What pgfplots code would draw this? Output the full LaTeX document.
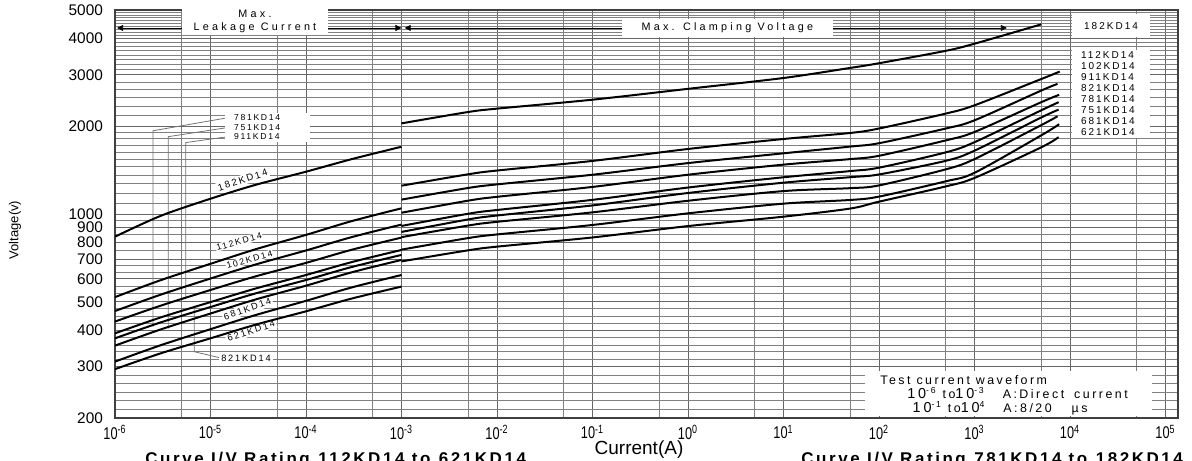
\documentclass[border=0pt]{standalone}
\usepackage{fontspec}
\setmainfont{Liberation Sans}
\newfontfamily\spacedfont{Liberation Sans}[LetterSpace=30]
\newfontfamily\labelfont{Liberation Sans}[LetterSpace=20]
\newfontfamily\narrowfont{Liberation Sans}[FakeStretch=0.75]
\newfontfamily\boldspaced{Liberation Sans}[LetterSpace=15]
\usepackage{pgfplots}
\pgfplotsset{compat=1.18}
\usetikzlibrary{arrows.meta}
\pgfplotsset{vcurve/.style={black, solid, line width=1pt, mark=none, smooth}}

\begin{document}
\begin{tikzpicture}
\useasboundingbox (-57.5pt,-21pt) rectangle (538.5pt,209pt);
\begin{axis}[
  at={(0pt,0pt)}, anchor=south west,
  scale only axis, width=531.5pt, height=204pt,
  xmode=log, ymode=log,
  xmin=1e-6, xmax=1.352e5, ymin=200, ymax=5000,
  xtick={1e-6,1e-5,1e-4,1e-3,1e-2,1e-1,1,10,100,1000,10000,100000},
  xticklabels={10\textsuperscript{-6},10\textsuperscript{-5},10\textsuperscript{-4},10\textsuperscript{-3},
    10\textsuperscript{-2},10\textsuperscript{-1},10\textsuperscript{0},10\textsuperscript{1},
    10\textsuperscript{2},10\textsuperscript{3},10\textsuperscript{4},10\textsuperscript{5}},
  minor xtick={5e-6,5e-5,5e-4,5e-3,5e-2,5e-1,5,50,500,5000,50000},
  ytick={200,300,400,500,600,700,800,900,1000,2000,3000,4000,5000},
  yticklabels={200,300,400,500,600,700,800,900,1000,2000,3000,4000,5000},
  minor ytick={214,229,245,262,280,318,337,356,378,423,447,473,533,565,632,665,750,850,950,
    1090,1180,1270,1360,1450,1540,1630,1720,1810,1900,
    2170,2340,2500,2670,2830,
    3125,3250,3375,3500,3625,3750,3875,
    4100,4200,4300,4400,4500,4600,4700,4800,4900},
  grid=both,
  major grid style={draw=black!60, line width=0.45pt},
  minor grid style={draw=black!50, line width=0.4pt},
  major tick length=0pt, minor tick length=0pt,
  axis line style={draw=black!75, line width=0.6pt},
  xticklabel style={font=\narrowfont\fontsize{8.5}{9}\selectfont},
  yticklabel style={font=\fontsize{7.7}{8}\selectfont, xshift=-2.5pt},
]

% leader lines for the left labels
\draw[black!55, line width=0.4pt] (rel axis cs:0.1063,0.736) -- (rel axis cs:0.0357,0.704) -- (axis cs:2.5e-6,411);
\draw[black!55, line width=0.4pt] (rel axis cs:0.1063,0.712) -- (rel axis cs:0.0501,0.6895) -- (axis cs:3.61e-6,405);
\draw[black!55, line width=0.4pt] (rel axis cs:0.1063,0.6895) -- (rel axis cs:0.0665,0.675) -- (axis cs:5.5e-6,511);
\draw[black!55, line width=0.4pt] (axis cs:6.76e-6,473) -- (rel axis cs:0.0746,0.1625) -- (rel axis cs:0.1007,0.1463);

% range arrows
\draw[black, line width=0.4pt, {Triangle[length=3pt,width=3pt]}-{Triangle[length=3pt,width=3pt]}]
  (rel axis cs:0.002,0.956) -- (rel axis cs:0.2695,0.956);
\draw[black, line width=0.4pt, {Triangle[length=3pt,width=3pt]}-{Triangle[length=3pt,width=3pt]}]
  (rel axis cs:0.2725,0.956) -- (rel axis cs:0.839,0.956);

% white label boxes
\node[fill=white, inner xsep=6pt, inner ysep=1pt, align=center,
  font=\spacedfont\fontsize{5.4}{6.5}\selectfont] at (rel axis cs:0.1317,0.972) {Max.\\Leakage Current};
\node[fill=white, inner xsep=10pt, inner ysep=2pt,
  font=\spacedfont\fontsize{5.4}{6.5}\selectfont] at (rel axis cs:0.576,0.956) {Max. Clamping Voltage};
\node[fill=white, minimum width=39pt, minimum height=11.5pt, inner sep=0pt,
  font=\labelfont\fontsize{5}{5.5}\selectfont] at (rel axis cs:0.937,0.961) {182KD14};
\node[fill=white, text width=30pt, inner xsep=4.5pt, inner ysep=1pt, align=left,
  font=\labelfont\fontsize{5}{5.5}\selectfont] at (rel axis cs:0.937,0.795)
  {112KD14\\102KD14\\911KD14\\821KD14\\781KD14\\751KD14\\681KD14\\621KD14};
\node[fill=white, text width=33.5pt, inner xsep=4.5pt, inner ysep=0.8pt, align=left,
  font=\labelfont\fontsize{4.3}{4.75}\selectfont] at (rel axis cs:0.1435,0.712)
  {781KD14\\751KD14\\911KD14};
\node[fill=white, inner sep=1pt, font=\labelfont\fontsize{4.6}{5}\selectfont] at (rel axis cs:0.1232,0.147) {821KD14};
\node[fill=white, inner sep=0.8pt, rotate=18, font=\labelfont\fontsize{4.8}{5}\selectfont] at (rel axis cs:0.12,0.5833) {182KD14};
\node[fill=white, inner sep=0.4pt, rotate=15, font=\labelfont\fontsize{4.4}{5}\selectfont] at (rel axis cs:0.1167,0.432) {112KD14};
\node[fill=white, inner sep=0.4pt, rotate=15.5, font=\labelfont\fontsize{4.4}{5}\selectfont] at (rel axis cs:0.1265,0.388) {102KD14};
\node[fill=white, inner sep=0.8pt, rotate=19, font=\labelfont\fontsize{4.6}{5}\selectfont] at (rel axis cs:0.1246,0.267) {681KD14};
\node[fill=white, inner sep=0.8pt, rotate=18, font=\labelfont\fontsize{4.6}{5}\selectfont] at (rel axis cs:0.128,0.2132) {621KD14};

% test waveform box
\node[fill=white, anchor=south west, minimum width=143.5pt, minimum height=22.5pt, inner sep=0pt]
  at (rel axis cs:0.7056,0.004) {};
\node[anchor=base west, inner sep=0pt, font=\labelfont\fontsize{6.2}{7}\selectfont] at (rel axis cs:0.7197,0.0833) {Test current waveform};
\node[anchor=base west, inner sep=0pt, font=\labelfont\fontsize{6.2}{7}\selectfont] at (rel axis cs:0.745,0.0466)
  {{\fontsize{7.2}{8}\selectfont 10}\textsuperscript{-6} to{\fontsize{7.2}{8}\selectfont 10}\textsuperscript{-3}\hspace{9pt}A:Direct\hspace{5pt}current};
\node[anchor=base west, inner sep=0pt, font=\labelfont\fontsize{6.2}{7}\selectfont] at (rel axis cs:0.75,0.0123)
  {{\fontsize{7.2}{8}\selectfont 10}\textsuperscript{-1} to{\fontsize{7.2}{8}\selectfont 10}\textsuperscript{4}\hspace{9pt}A:8/20\hspace{10pt}µs};

% leakage region (1e-6 .. 1e-3 A)
\addplot[vcurve] coordinates {(1e-6,836) (3e-6,985) (1e-5,1128) (3e-5,1260) (1e-4,1396) (3e-4,1541) (1e-3,1700)};
\addplot[vcurve] coordinates {(1e-6,519) (3e-6,593) (1e-5,675) (3e-5,758) (1e-4,848) (3e-4,945) (1e-3,1046)};
\addplot[vcurve] coordinates {(1e-6,465) (3e-6,529) (1e-5,601) (3e-5,672) (1e-4,750) (3e-4,833) (1e-3,920)};
\addplot[vcurve] coordinates {(1e-6,428) (3e-6,485) (1e-5,549) (3e-5,612) (1e-4,680) (3e-4,754) (1e-3,830)};
\addplot[vcurve] coordinates {(1e-6,390) (3e-6,442) (1e-5,499) (3e-5,556) (1e-4,618) (3e-4,684) (1e-3,753)};
\addplot[vcurve] coordinates {(1e-6,375) (3e-6,425) (1e-5,480) (3e-5,535) (1e-4,594) (3e-4,658) (1e-3,724)};
\addplot[vcurve] coordinates {(1e-6,354) (3e-6,402) (1e-5,456) (3e-5,510) (1e-4,568) (3e-4,631) (1e-3,696)};
\addplot[vcurve] coordinates {(1e-6,312) (3e-6,355) (1e-5,403) (3e-5,451) (1e-4,504) (3e-4,560) (1e-3,618)};
\addplot[vcurve] coordinates {(1e-6,294) (3e-6,333) (1e-5,375) (3e-5,418) (1e-4,464) (3e-4,513) (1e-3,564)};

% clamping region (1e-3 .. 1e4 A)
\addplot[vcurve] coordinates {(1e-3,2044) (5e-3,2236) (1e-2,2296) (1e-1,2464) (1,2684) (10,2924) (50,3166) (100,3285) (500,3623) (1000,3833) (5000,4464)};
\addplot[vcurve] coordinates {(1e-3,1250) (5e-3,1368) (1e-2,1409) (1e-1,1520) (1,1670) (10,1807) (50,1895) (100,1963) (500,2208) (1000,2357) (5000,2900) (7800,3076)};
\addplot[vcurve] coordinates {(1e-3,1120) (5e-3,1228) (1e-2,1263) (1e-1,1363) (1,1494) (10,1614) (50,1702) (100,1748) (500,1963) (1000,2094) (5000,2648) (7400,2791)};
\addplot[vcurve] coordinates {(1e-3,1010) (5e-3,1111) (1e-2,1145) (1e-1,1238) (1,1363) (10,1476) (50,1542) (100,1583) (500,1787) (1000,1910) (5000,2416) (7700,2560)};
\addplot[vcurve] coordinates {(1e-3,910) (5e-3,1002) (1e-2,1032) (1e-1,1118) (1,1232) (10,1336) (50,1403) (100,1441) (500,1626) (1000,1762) (5000,2266) (7600,2416)};
\addplot[vcurve] coordinates {(1e-3,868) (5e-3,958) (1e-2,988) (1e-1,1070) (1,1180) (10,1280) (50,1337) (100,1366) (500,1521) (1000,1648) (5000,2141) (7600,2278)};
\addplot[vcurve] coordinates {(1e-3,833) (5e-3,913) (1e-2,940) (1e-1,1013) (1,1110) (10,1198) (50,1226) (100,1253) (500,1422) (1000,1542) (5000,2016) (7400,2162)};
\addplot[vcurve] coordinates {(1e-3,755) (5e-3,827) (1e-2,851) (1e-1,917) (1,1005) (10,1085) (50,1117) (100,1147) (500,1294) (1000,1384) (5000,1860) (7700,2031)};
\addplot[vcurve] coordinates {(1e-3,688) (5e-3,751) (1e-2,773) (1e-1,831) (1,909) (10,979) (50,1044) (100,1102) (500,1243) (1000,1329) (5000,1692) (7600,1834)};
\end{axis}

\node[rotate=90, font=\fontsize{6.5}{7}\selectfont] at (-50pt,94pt) {Voltage(v)};
\node[font=\fontsize{9.5}{10}\selectfont] at (262pt,-16pt) {Current(A)};
\node[anchor=base west, inner sep=0pt, font=\boldspaced\bfseries\fontsize{8.5}{9}\selectfont] at (15pt,-23pt) {Curve I/V Rating\enspace 112KD14 to\enspace 621KD14};
\node[anchor=base west, inner sep=0pt, font=\boldspaced\bfseries\fontsize{8.5}{9}\selectfont] at (343pt,-23pt) {Curve I/V Rating\enspace 781KD14 to\enspace 182KD14};
\end{tikzpicture}
\end{document}
